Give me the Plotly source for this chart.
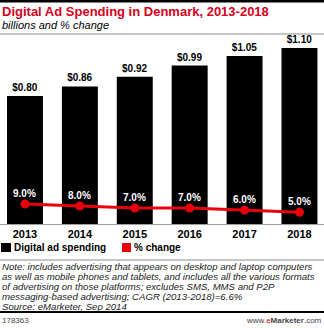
import plotly.graph_objects as go

years = ["2013", "2014", "2015", "2016", "2017", "2018"]
spending = [0.80, 0.86, 0.92, 0.99, 1.05, 1.10]
pct_change = [9.0, 8.0, 7.0, 7.0, 6.0, 5.0]

title = "Digital Ad Spending in Denmark, 2013-2018"
subtitle = "billions and % change"
note_lines = [
    "Note: includes advertising that appears on desktop and laptop computers",
    "as well as mobile phones and tablets, and includes all the various formats",
    "of advertising on those platforms; excludes SMS, MMS and P2P",
    "messaging-based advertising; CAGR (2013-2018)=6.6%",
    "Source: eMarketer, Sep 2014",
]
chart_id = "178363"

W, H = 324, 328
T, B = 40, 104
PH = H - T - B
BASE = H - B
FONT = "Liberation Sans"
RED = "#d6001c"
LINE_RED = "#e8000d"
K2 = 2.05  # px per % on secondary axis
V0 = 9.0 - (BASE - 204) / K2


def py(p):
    return (BASE - p) / PH


def px(p):
    return p / W


xs = list(range(len(years)))

fig = go.Figure()
fig.add_trace(go.Bar(
    x=xs, y=spending, marker=dict(color="black", line=dict(width=0)),
    texttemplate="<b>$%{y:.2f}</b>", textposition="outside",
    textfont=dict(size=10, color="black", family=FONT),
    cliponaxis=False, showlegend=False, width=0.655,
))
fig.add_trace(go.Scatter(
    x=xs, y=pct_change, yaxis="y2", mode="lines+markers",
    line=dict(color=LINE_RED, width=3), marker=dict(color=LINE_RED, size=9),
    cliponaxis=False, showlegend=False,
))

fig.update_layout(
    width=W, height=H, margin=dict(l=0, r=0, t=T, b=B),
    paper_bgcolor="white", plot_bgcolor="white",
    font=dict(family=FONT, color="black"),
    xaxis=dict(range=[-0.455, 5.447], tickmode="array", tickvals=xs,
               ticktext=["<b>%s</b>" % y for y in years], tickfont=dict(size=11, color="black"),
               showgrid=False, zeroline=False, showline=True, linecolor="#a0a0a0", linewidth=1,
               ticks=""),
    yaxis=dict(range=[0, PH / 160.0], visible=False, showgrid=False),
    yaxis2=dict(range=[V0, V0 + PH / K2], overlaying="y", visible=False, showgrid=False),
)

shapes = [
    dict(type="line", xref="paper", yref="paper", x0=0, x1=1, y0=py(1), y1=py(1),
         line=dict(color="black", width=3)),
    dict(type="line", xref="paper", yref="paper", x0=0, x1=1, y0=py(34), y1=py(34),
         line=dict(color="#8c8c8c", width=1)),
    dict(type="line", xref="paper", yref="paper", x0=0, x1=1, y0=py(260), y1=py(260),
         line=dict(color="#8c8c8c", width=1)),
    dict(type="line", xref="paper", yref="paper", x0=0, x1=1, y0=py(312), y1=py(312),
         line=dict(color="black", width=2)),
    dict(type="rect", xref="paper", yref="paper", x0=px(1), x1=px(11), y0=py(252), y1=py(243),
         fillcolor="black", line=dict(width=0)),
    dict(type="rect", xref="paper", yref="paper", x0=px(122), x1=px(131), y0=py(252), y1=py(243),
         fillcolor=LINE_RED, line=dict(width=0)),
]

ann = []


def add_text(text, x, y, size, color="black", xanchor="left", italic=False, family=FONT):
    ann.append(dict(text=("<i>%s</i>" % text) if italic else text, x=px(x), y=py(y),
                    xref="paper", yref="paper", xanchor=xanchor, yanchor="middle",
                    showarrow=False, font=dict(size=size, color=color, family=family)))


add_text("<b>%s</b>" % title, 0, 11, 13, color=RED)
add_text(subtitle, 0, 25, 11, italic=True)
add_text("<b>Digital ad spending</b>", 12, 247.5, 10)
add_text("<b>% change</b>", 132, 247.5, 10)
for i, line in enumerate(note_lines):
    add_text(line, 0, 266 + i * 10.0, 9.6, color="#222222", italic=True)
add_text(chart_id, 0, 320, 8, color="#444444")
add_text("www.<span style='color:#d6001c'>e</span><b>Marketer</b>.com", 324, 320, 8,
         color="#444444", xanchor="right")

for x, v in zip(xs, pct_change):
    ann.append(dict(text="<b>%.1f%%</b>" % v, x=x, y=v, xref="x", yref="y2",
                    yshift=11, showarrow=False, xanchor="center", yanchor="middle",
                    font=dict(size=10, color="white", family=FONT)))

fig.update_layout(shapes=shapes, annotations=ann)
fig.write_html("out.html")
